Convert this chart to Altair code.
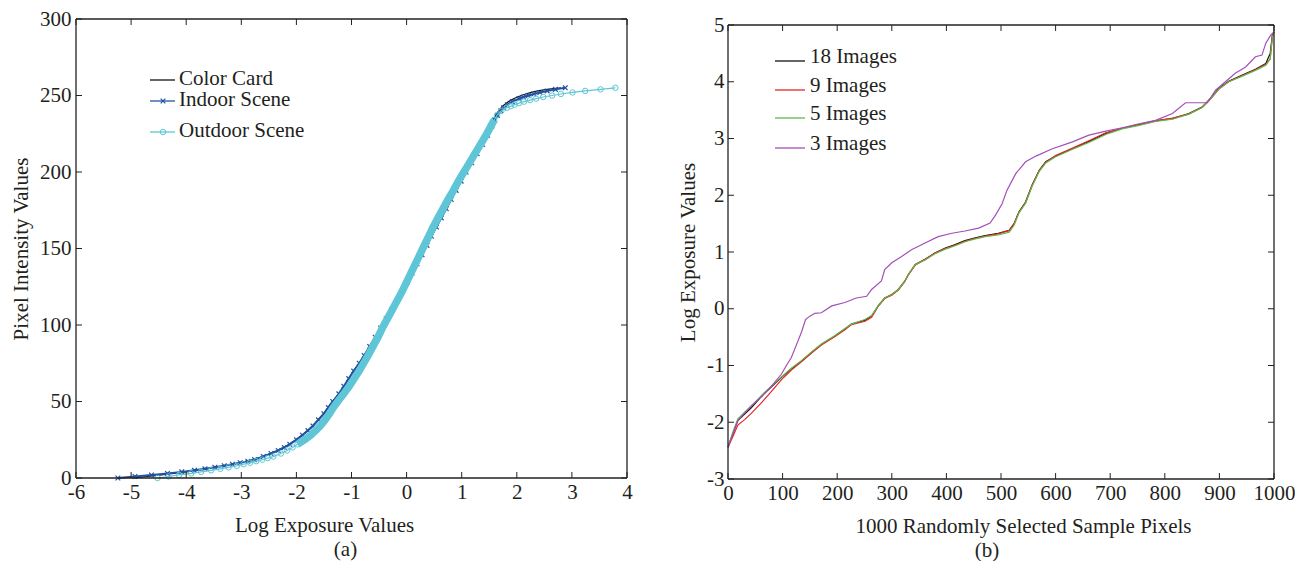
import altair as alt
import pandas as pd

# ---------------- panel (a): pixel value (z) vs. log exposure ----------------
card_z = [0, 2, 4, 6, 8, 10, 12, 14, 16, 18, 20, 22, 25, 28, 31, 34, 38, 42, 46, 50,
          55, 60, 65, 70, 75, 80, 86, 92, 98, 104, 110, 116, 122, 128,
          134, 140, 146, 152, 158, 164, 170, 176, 182, 188, 194, 200,
          206, 212, 218, 224, 230, 234, 237, 240, 243, 246, 248, 250, 251, 252, 253, 254, 255]
card_log = [-4.95, -4.45, -4.0, -3.62, -3.30, -3.02, -2.78, -2.62, -2.47, -2.34, -2.23, -2.13,
            -2.01, -1.90, -1.80, -1.71, -1.61, -1.51, -1.43, -1.35,
            -1.23, -1.13, -1.05, -0.96, -0.86, -0.77, -0.67, -0.57, -0.47, -0.37, -0.27, -0.18, -0.09, 0.0,
            0.09, 0.18, 0.27, 0.36, 0.44, 0.53, 0.62, 0.71, 0.80, 0.89, 0.98, 1.07,
            1.17, 1.27, 1.37, 1.46, 1.54, 1.58, 1.62, 1.67, 1.74, 1.85, 1.95, 2.08, 2.16, 2.26, 2.38, 2.55, 2.80]

indoor_z = [0, 1, 2, 3, 4, 5, 6, 7, 8, 9, 10, 11, 12, 14, 16, 18, 20, 22,
            25, 28, 31, 34, 38, 42, 46, 50, 55, 60, 65, 70, 75, 80,
            86, 92, 98, 104, 110, 116, 122, 128, 134, 140, 146, 152, 158, 164, 170, 176, 182, 188, 194, 200,
            206, 212, 218, 224, 230, 234, 237, 240, 242, 244, 246, 248, 249, 250, 251, 252, 253, 254, 255]
indoor_log = [-5.24, -4.93, -4.63, -4.34, -4.08, -3.85, -3.66, -3.48, -3.31, -3.16, -3.02, -2.88, -2.76,
              -2.60, -2.46, -2.33, -2.22, -2.12,
              -2.00, -1.89, -1.79, -1.70, -1.60, -1.50, -1.42, -1.34, -1.23, -1.14, -1.05, -0.96, -0.86, -0.77,
              -0.67, -0.57, -0.47, -0.37, -0.27, -0.17, -0.08, 0.01, 0.10, 0.19, 0.28, 0.37, 0.45, 0.54,
              0.63, 0.72, 0.81, 0.90, 0.99, 1.08,
              1.18, 1.28, 1.38, 1.47, 1.55, 1.60, 1.65, 1.71, 1.76, 1.83, 1.92, 2.04,
              2.12, 2.21, 2.31, 2.42, 2.55, 2.70, 2.88]

outdoor_z = [0, 1, 2, 3, 4, 5, 6, 7, 8, 9, 10, 11, 12, 13, 14, 16, 18, 20, 22,
             25, 28, 31, 34, 38, 42, 46, 50, 55, 60, 65, 70, 75, 80,
             86, 92, 98, 104, 110, 116, 122, 128, 134, 140, 146, 152, 158, 164, 170, 176, 182, 188, 194, 200,
             206, 212, 218, 224, 230, 234, 237, 240, 242, 243, 244, 245, 246, 247, 248, 249, 250,
             251, 252, 253, 254, 255]
outdoor_log = [-4.52, -4.32, -4.13, -3.91, -3.73, -3.55, -3.38, -3.23, -3.08, -2.96, -2.84, -2.73, -2.62,
               -2.52, -2.42, -2.28, -2.17, -2.07, -1.98,
               -1.85, -1.74, -1.65, -1.57, -1.48, -1.40, -1.33, -1.25, -1.14, -1.04, -0.95, -0.86, -0.78, -0.70,
               -0.61, -0.52, -0.44, -0.35, -0.26, -0.17, -0.08, 0.0, 0.08, 0.16, 0.24, 0.32, 0.40, 0.48,
               0.57, 0.66, 0.75, 0.85, 0.94, 1.04,
               1.14, 1.24, 1.34, 1.44, 1.53, 1.59, 1.64, 1.72, 1.82, 1.89, 1.96, 2.04, 2.13, 2.24, 2.35,
               2.48, 2.64, 2.80, 3.01, 3.24, 3.52, 3.79]

a_names = ["Color Card", "Indoor Scene", "Outdoor Scene"]
a_xticks = [-6, -5, -4, -3, -2, -1, 0, 1, 2, 3, 4]
a_yticks = [0, 50, 100, 150, 200, 250, 300]

# ---------------- panel (b): sorted log exposure of 1000 sample pixels ----------------
s_main = [0, 9, 18, 31, 43, 61, 80, 98, 116, 135, 153, 171, 196, 214, 226, 251, 263, 275, 287, 300,
          312, 324, 330, 343, 361, 379, 398, 416, 434, 453, 471, 495, 515, 524, 533, 545, 557, 570, 582, 600,
          631, 661, 692, 722, 753, 783, 814, 844, 869, 884, 899, 917, 942, 966, 985, 993, 997, 1000]
img18 = [-2.44, -2.2, -1.97, -1.85, -1.74, -1.55, -1.37, -1.21, -1.06, -0.92,
         -0.77, -0.63, -0.48, -0.36, -0.27, -0.20, -0.13, 0.05, 0.19, 0.25,
         0.34, 0.49, 0.60, 0.78, 0.87, 0.98, 1.07, 1.13, 1.20, 1.25,
         1.29, 1.33, 1.38, 1.50, 1.71, 1.88, 2.18, 2.44, 2.59, 2.69,
         2.82, 2.95, 3.09, 3.18, 3.24, 3.31, 3.35, 3.44, 3.56, 3.71,
         3.88, 4.01, 4.12, 4.22, 4.32, 4.50, 4.82, 4.88]
img9 = [-2.44, -2.25, -2.05, -1.95, -1.84, -1.66, -1.45, -1.25, -1.08, -0.93,
        -0.78, -0.64, -0.49, -0.37, -0.28, -0.22, -0.15, 0.04, 0.18, 0.24,
        0.33, 0.48, 0.59, 0.77, 0.87, 0.98, 1.06, 1.12, 1.19, 1.24,
        1.28, 1.32, 1.38, 1.50, 1.70, 1.87, 2.17, 2.43, 2.58, 2.70,
        2.83, 2.96, 3.10, 3.18, 3.25, 3.31, 3.36, 3.43, 3.55, 3.70,
        3.87, 4.00, 4.11, 4.21, 4.31, 4.40, 4.80, 4.88]
img5 = [-2.44, -2.17, -1.94, -1.82, -1.71, -1.53, -1.36, -1.20, -1.05, -0.91,
        -0.76, -0.62, -0.47, -0.35, -0.27, -0.19, -0.12, 0.05, 0.19, 0.25,
        0.34, 0.49, 0.60, 0.78, 0.86, 0.97, 1.05, 1.11, 1.18, 1.23,
        1.27, 1.30, 1.35, 1.47, 1.69, 1.86, 2.16, 2.42, 2.57, 2.68,
        2.81, 2.93, 3.07, 3.17, 3.23, 3.30, 3.34, 3.43, 3.55, 3.70,
        3.87, 4.00, 4.10, 4.20, 4.29, 4.40, 4.78, 4.88]
s_three = [0, 9, 18, 31, 43, 61, 80, 98, 107, 116, 128, 135, 142, 150, 159, 171, 190, 214, 235, 254,
           263, 281, 287, 300, 318, 336, 361, 385, 410, 434, 459, 480, 490, 502, 511, 527, 545, 564, 594, 631,
           661, 692, 722, 753, 783, 814, 838, 878, 893, 911, 929, 948, 966, 978, 985, 994, 1000]
img3 = [-2.44, -2.2, -1.97, -1.83, -1.71, -1.55, -1.36, -1.15, -1.0, -0.86,
        -0.57, -0.40, -0.19, -0.13, -0.08, -0.07, 0.05, 0.11, 0.19, 0.22,
        0.34, 0.49, 0.69, 0.81, 0.92, 1.04, 1.16, 1.27, 1.33, 1.37,
        1.42, 1.51, 1.65, 1.85, 2.09, 2.38, 2.59, 2.69, 2.82, 2.94,
        3.06, 3.13, 3.19, 3.26, 3.32, 3.44, 3.63, 3.63, 3.85, 4.0,
        4.15, 4.26, 4.44, 4.47, 4.68, 4.82, 4.88]

b_names = ["18 Images", "9 Images", "5 Images", "3 Images"]
b_xticks = [0, 100, 200, 300, 400, 500, 600, 700, 800, 900, 1000]
b_yticks = [-3, -2, -1, 0, 1, 2, 3, 4, 5]

# ---------------- styling ----------------
FONT = "Liberation Serif"
FS = 21
TXT = "#231f20"
FRAME = "#222222"
BLACK = "#111111"
BLUE = "#2352a3"
CYAN = "#5ec6d6"
B_COLORS = ["#111111", "#ea2226", "#5fba4a", "#a24fb6"]
XMARK = "M-1,-1L1,1M-1,1L1,-1"
TICK = 6

WA, HA = 551, 459
WB, HB = 546, 460
TOPB = 6          # panel (b) frame starts a little lower than panel (a)


def x_axis(values, title, title_x):
    return alt.Axis(values=values, title=title, ticks=False, tickSize=0, domain=False, grid=False,
                    labelPadding=3, titlePadding=12, labelFlush=False, labelOverlap=False,
                    labelExpr="'' + datum.value", titleX=title_x)


def y_axis(values, title, lpad, title_y=None):
    kw = {} if title_y is None else {"titleY": title_y}
    return alt.Axis(values=values, title=title, ticks=False, tickSize=0, domain=False, grid=False,
                    labelPadding=lpad, titlePadding=8, labelFlush=False, labelOverlap=False,
                    labelExpr="'' + datum.value", **kw)


def inner_ticks(xvals, yvals, xf, yf, xs, ys, xax, yax, W, top, bottom):
    xt = pd.DataFrame({xf: xvals})
    yt = pd.DataFrame({yf: yvals})
    xe = alt.X(f"{xf}:Q", scale=xs, axis=xax)
    ye = alt.Y(f"{yf}:Q", scale=ys, axis=yax)
    rk = dict(color=FRAME, strokeWidth=1)
    return [
        alt.Chart(xt).mark_rule(**rk).encode(x=xe, y=alt.value(bottom), y2=alt.value(bottom - TICK)),
        alt.Chart(xt).mark_rule(**rk).encode(x=xe, y=alt.value(top), y2=alt.value(top + TICK)),
        alt.Chart(yt).mark_rule(**rk).encode(y=ye, x=alt.value(0), x2=alt.value(TICK)),
        alt.Chart(yt).mark_rule(**rk).encode(y=ye, x=alt.value(W), x2=alt.value(W - TICK)),
    ]


def frame_rules(d, W, top, bottom):
    fk = dict(color=FRAME, strokeWidth=1.3)
    return [
        alt.Chart(d).mark_rule(**fk).encode(x=alt.value(0), x2=alt.value(W), y=alt.value(top)),
        alt.Chart(d).mark_rule(**fk).encode(x=alt.value(0), x2=alt.value(W), y=alt.value(bottom)),
        alt.Chart(d).mark_rule(**fk).encode(x=alt.value(0), y=alt.value(top), y2=alt.value(bottom)),
        alt.Chart(d).mark_rule(**fk).encode(x=alt.value(W), y=alt.value(top), y2=alt.value(bottom)),
    ]


# ---------------- panel (a) ----------------
xs_a = alt.Scale(domain=[-6, 4], nice=False, zero=False)
ys_a = alt.Scale(domain=[0, 300], nice=False)
xax_a = x_axis(a_xticks, "Log Exposure Values", 248)
yax_a = y_axis(a_yticks, "Pixel Intensity Values", 5)
xa = alt.X("log:Q", scale=xs_a, axis=xax_a)
ya = alt.Y("z:Q", scale=ys_a, axis=yax_a)

card_df = pd.DataFrame({"log": card_log, "z": card_z})
indoor_df = pd.DataFrame({"log": indoor_log, "z": indoor_z})
outdoor_df = pd.DataFrame({"log": outdoor_log, "z": outdoor_z})

layers_a = [
    alt.Chart(card_df).mark_line(color=BLACK, strokeWidth=1.2).encode(x=xa, y=ya),
    alt.Chart(indoor_df).mark_line(color=BLUE, strokeWidth=2).encode(x=xa, y=ya),
    alt.Chart(indoor_df).mark_point(shape=XMARK, size=22, color=BLUE, strokeWidth=1.2,
                                    opacity=1, filled=False).encode(x=xa, y=ya),
    alt.Chart(outdoor_df).transform_filter("datum.z >= 22 && datum.z <= 234")
    .mark_line(color=CYAN, strokeWidth=7.5).encode(x=xa, y=ya),
    alt.Chart(outdoor_df).mark_line(color=CYAN, strokeWidth=1.2).encode(x=xa, y=ya),
    alt.Chart(outdoor_df).mark_point(shape="circle", size=30, color=CYAN, strokeWidth=1,
                                     opacity=1, filled=False).encode(x=xa, y=ya),
]
layers_a += inner_ticks(a_xticks, a_yticks, "log", "z", xs_a, ys_a, xax_a, yax_a, WA, 0, HA)
layers_a += frame_rules(pd.DataFrame({"t": [0]}), WA, 0, HA)

# legend (a)
leg_a_line_y = [61, 82, 113]
leg_a_text_y = [60, 81, 112]
leg_a_colors = [BLACK, BLUE, CYAN]
for i, name in enumerate(a_names):
    d = pd.DataFrame({"t": [name]})
    layers_a.append(alt.Chart(d).mark_rule(color=leg_a_colors[i], strokeWidth=1.3).encode(
        x=alt.value(74), x2=alt.value(99), y=alt.value(leg_a_line_y[i])))
    if i == 1:
        layers_a.append(alt.Chart(d).mark_point(shape=XMARK, size=22, color=BLUE, strokeWidth=1.2,
                                                opacity=1, filled=False).encode(
            x=alt.value(87), y=alt.value(leg_a_line_y[i])))
    if i == 2:
        layers_a.append(alt.Chart(d).mark_point(shape="circle", size=30, color=CYAN, strokeWidth=1,
                                                opacity=1, filled=False).encode(
            x=alt.value(87), y=alt.value(leg_a_line_y[i])))
    layers_a.append(alt.Chart(d).mark_text(align="left", baseline="middle", font=FONT, fontSize=FS,
                                           color=TXT).encode(
        text="t:N", x=alt.value(103), y=alt.value(leg_a_text_y[i])))

chart_a = alt.layer(*layers_a).properties(
    width=WA, height=HA,
    title=alt.TitleParams("(a)", orient="bottom", anchor="middle", frame="group", dx=-6, offset=4),
)

# ---------------- panel (b) ----------------
xs_b = alt.Scale(domain=[0, 1000], nice=False)
ys_b = alt.Scale(domain=[-3, 5], nice=False, range=[HB, TOPB])
xax_b = x_axis(b_xticks, "1000 Randomly Selected Sample Pixels", 295)
yax_b = y_axis(b_yticks, "Log Exposure Values", 4, title_y=(HB + TOPB) / 2)
xb = alt.X("s:Q", scale=xs_b, axis=xax_b)
yb = alt.Y("v:Q", scale=ys_b, axis=yax_b)

b_series = [(s_main, img18), (s_main, img9), (s_main, img5), (s_three, img3)]
layers_b = []
for i, (sx, vals) in enumerate(b_series):
    d = pd.DataFrame({"s": sx, "v": vals})
    layers_b.append(alt.Chart(d).mark_line(color=B_COLORS[i], strokeWidth=1.2).encode(x=xb, y=yb))
layers_b += inner_ticks(b_xticks, b_yticks, "s", "v", xs_b, ys_b, xax_b, yax_b, WB, TOPB, HB)
layers_b += frame_rules(pd.DataFrame({"t": [0]}), WB, TOPB, HB)

leg_b_line_y = [42, 71, 99, 129]
leg_b_text_y = [38, 67, 95, 125]
for i, name in enumerate(b_names):
    d = pd.DataFrame({"t": [name]})
    layers_b.append(alt.Chart(d).mark_rule(color=B_COLORS[i], strokeWidth=1.3).encode(
        x=alt.value(47), x2=alt.value(77), y=alt.value(leg_b_line_y[i])))
    layers_b.append(alt.Chart(d).mark_text(align="left", baseline="middle", font=FONT, fontSize=FS,
                                           color=TXT).encode(
        text="t:N", x=alt.value(82), y=alt.value(leg_b_text_y[i])))

chart_b = alt.layer(*layers_b).properties(
    width=WB, height=HB,
    title=alt.TitleParams("(b)", orient="bottom", anchor="middle", frame="group", dx=-14, offset=4),
)

chart = alt.hconcat(chart_a, chart_b, spacing=44).properties(
    padding={"left": 2, "top": 0, "right": 0, "bottom": 0}
).configure_axis(
    labelFont=FONT, titleFont=FONT, labelFontSize=FS, titleFontSize=FS,
    titleFontWeight="normal", labelColor=TXT, titleColor=TXT,
).configure_view(
    stroke=None,
).configure_title(
    font=FONT, fontSize=FS, fontWeight="normal", color=TXT,
)

chart.save("out.html", embed_options={"renderer": "svg", "actions": False})
